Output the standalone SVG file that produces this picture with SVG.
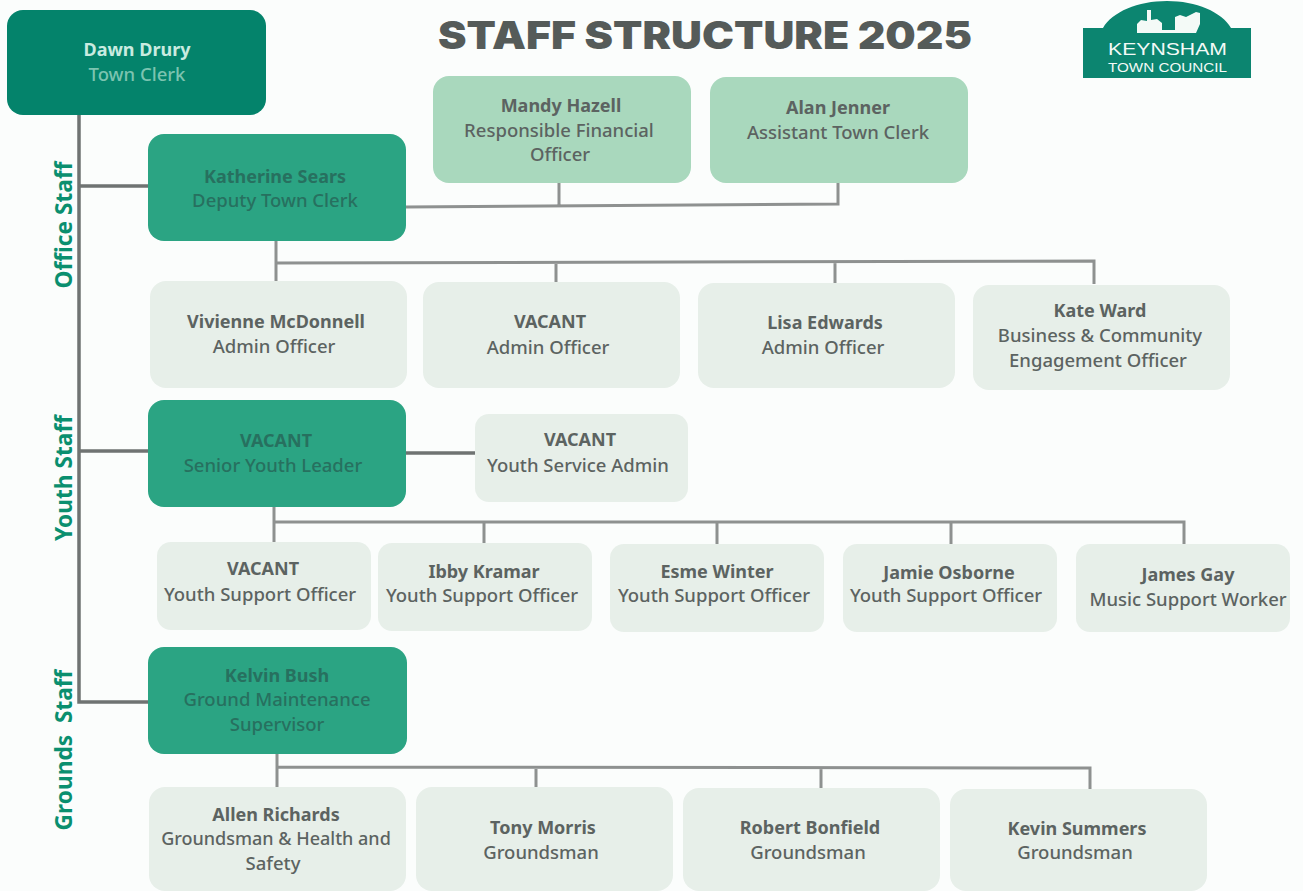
<svg xmlns="http://www.w3.org/2000/svg" width="1303" height="891" viewBox="0 0 1303 891">
<style>
text{font-family:"Noto Sans","Open Sans","Liberation Sans",sans-serif;font-size:18.5px;text-anchor:middle;font-weight:500}
.b{font-weight:700;font-size:18px}
.k{fill:#5c6361}
.d{fill:#27705f}
.n0{fill:#04836b}
.n1{fill:#2ba483}
.n2{fill:#a9d8bd}
.n3{fill:#e7efe9}
.side{font-size:22.7px;font-weight:700;fill:#0a8f6f}
.c{fill:none;stroke:#6f7372;stroke-width:3.5}
.c2{fill:none;stroke:#8e9190;stroke-width:3}
.lg{font-family:"Liberation Sans",sans-serif;fill:#f4faf7}
</style>
<rect width="1303" height="891" fill="#fbfdfc"/>
<g id="connectors">
<path class="c" d="M79 115V702H148M79 186H148M79 451H148"/>
<path class="c2" d="M406 207L838 204V183M559 183V205"/>
<path class="c2" d="M276 240V281M276 263L1094 261V284M556 262V283M835 262V285"/>
<path class="c" d="M406 453H475"/>
<path class="c2" d="M274 506V542M274 522L1184 522V544M484 522V543M717 522V544M951 522V544"/>
<path class="c2" d="M277 753V787M277 767L1090 768V790M536 768V787M821 768V789"/>
</g>
<text class="side" transform="translate(72 225) rotate(-90)">Office Staff</text>
<text class="side" transform="translate(72 478) rotate(-90)">Youth Staff</text>
<text class="side" transform="translate(72 750) rotate(-90)" xml:space="preserve">Grounds  Staff</text>
<text id="title" x="705" y="49" textLength="534" lengthAdjust="spacingAndGlyphs" style="font-family:'Inter','Open Sans',sans-serif;font-size:38px;font-weight:900" fill="#555b59">STAFF STRUCTURE 2025</text>
<g id="logo">
<path d="M1083 28H1103C1112 12 1138 1 1167 1C1196 1 1222 12 1231 28H1251V78H1083Z" fill="#0c8570"/>
<path d="M1137 33V24L1141 20L1147 21V10H1151V20L1157 19L1162 23V30H1175V17L1180 15L1186 17L1196 12L1200 13V24L1196 33Z" fill="#f4faf7"/>
<text class="lg" x="1167.500" y="55" textLength="119" lengthAdjust="spacingAndGlyphs" style="font-size:17px">KEYNSHAM</text>
<text class="lg" x="1167.500" y="72" textLength="119" lengthAdjust="spacingAndGlyphs" style="font-size:13px">TOWN COUNCIL</text>
</g>
<g id="n-dawn"><rect class="n0" x="7" y="10" width="259" height="105" rx="16"/><text class="b" x="137" y="56" fill="#c9ebe0">Dawn Drury</text><text x="137" y="81" fill="#7cc4b0">Town Clerk</text></g>
<g id="n-katherine"><rect class="n1" x="148" y="134" width="258" height="107" rx="16"/><text class="b d" x="275" y="183">Katherine Sears</text><text class="d" x="275" y="207">Deputy Town Clerk</text></g>
<g id="n-mandy"><rect class="n2" x="433" y="76" width="258" height="107" rx="16"/><text class="b k" x="561" y="112">Mandy Hazell</text><text class="k" x="559" y="137">Responsible Financial</text><text class="k" x="560" y="161">Officer</text></g>
<g id="n-alan"><rect class="n2" x="710" y="77" width="258" height="106" rx="16"/><text class="b k" x="838" y="114">Alan Jenner</text><text class="k" x="838" y="139">Assistant Town Clerk</text></g>
<g id="n-vivienne"><rect class="n3" x="150" y="281" width="257" height="107" rx="16"/><text class="b k" x="276" y="328">Vivienne McDonnell</text><text class="k" x="274" y="353">Admin Officer</text></g>
<g id="n-vacant1"><rect class="n3" x="423" y="282" width="257" height="106" rx="16"/><text class="b k" x="550" y="328">VACANT</text><text class="k" x="548" y="354">Admin Officer</text></g>
<g id="n-lisa"><rect class="n3" x="698" y="283" width="257" height="105" rx="16"/><text class="b k" x="825" y="329">Lisa Edwards</text><text class="k" x="823" y="354">Admin Officer</text></g>
<g id="n-kate"><rect class="n3" x="973" y="285" width="257" height="105" rx="16"/><text class="b k" x="1100" y="317">Kate Ward</text><text class="k" x="1100" y="342">Business &amp; Community</text><text class="k" x="1098" y="367">Engagement Officer</text></g>
<g id="n-seniorvacant"><rect class="n1" x="148" y="400" width="258" height="107" rx="16"/><text class="b d" x="276" y="447">VACANT</text><text class="d" x="273" y="472">Senior Youth Leader</text></g>
<g id="n-ysadmin"><rect class="n3" x="475" y="414" width="213" height="88" rx="14"/><text class="b k" x="580" y="446">VACANT</text><text class="k" x="578" y="472">Youth Service Admin</text></g>
<g id="n-ys1"><rect class="n3" x="157" y="542" width="214" height="88" rx="14"/><text class="b k" x="263" y="575">VACANT</text><text class="k" x="260" y="601">Youth Support Officer</text></g>
<g id="n-ys2"><rect class="n3" x="378" y="543" width="214" height="88" rx="14"/><text class="b k" x="484" y="578">Ibby Kramar</text><text class="k" x="482" y="602">Youth Support Officer</text></g>
<g id="n-ys3"><rect class="n3" x="610" y="544" width="214" height="88" rx="14"/><text class="b k" x="717" y="578">Esme Winter</text><text class="k" x="714" y="602">Youth Support Officer</text></g>
<g id="n-ys4"><rect class="n3" x="843" y="544" width="214" height="88" rx="14"/><text class="b k" x="949" y="579">Jamie Osborne</text><text class="k" x="946" y="602">Youth Support Officer</text></g>
<g id="n-ys5"><rect class="n3" x="1076" y="544" width="214" height="88" rx="14"/><text class="b k" x="1188" y="581">James Gay</text><text class="k" x="1188" y="606">Music Support Worker</text></g>
<g id="n-kelvin"><rect class="n1" x="148" y="647" width="259" height="107" rx="16"/><text class="b d" x="277" y="682">Kelvin Bush</text><text class="d" x="277" y="706">Ground Maintenance</text><text class="d" x="277" y="731">Supervisor</text></g>
<g id="n-allen"><rect class="n3" x="149" y="787" width="257" height="104" rx="16"/><text class="b k" x="276" y="821">Allen Richards</text><text class="k" x="276" y="845" style="font-size:18px">Groundsman &amp; Health and</text><text class="k" x="273" y="870">Safety</text></g>
<g id="n-tony"><rect class="n3" x="416" y="787" width="257" height="104" rx="16"/><text class="b k" x="543" y="834">Tony Morris</text><text class="k" x="541" y="859">Groundsman</text></g>
<g id="n-robert"><rect class="n3" x="683" y="788" width="257" height="103" rx="16"/><text class="b k" x="810" y="834">Robert Bonfield</text><text class="k" x="808" y="859">Groundsman</text></g>
<g id="n-kevin"><rect class="n3" x="950" y="789" width="257" height="102" rx="16"/><text class="b k" x="1077" y="835">Kevin Summers</text><text class="k" x="1075" y="859">Groundsman</text></g>
</svg>
